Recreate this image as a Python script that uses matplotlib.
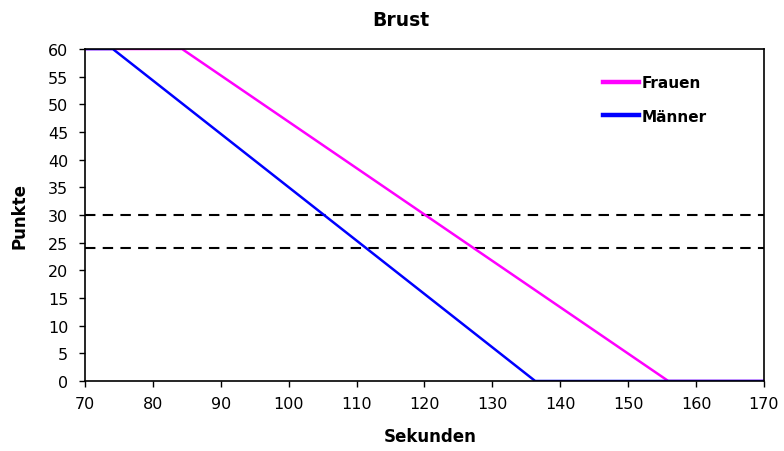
import numpy as np
import matplotlib
matplotlib.use('agg')
import matplotlib.pyplot as plt

# Punktetabelle Brust: Sekunden -> Punkte
frauen_sek = [70, 84.3, 155.9, 170]
frauen_pkt = [60, 60, 0, 0]
maenner_sek = [70, 74.1, 136.3, 170]
maenner_pkt = [60, 60, 0, 0]
grenzen = [30, 24]

plt.rcParams['font.family'] = 'DejaVu Sans'

W, H = 784, 452
fig = plt.figure(figsize=(W / 100, H / 100), dpi=100)
ax = fig.add_axes([85 / W, 70 / H, 679 / W, 332 / H])

for g in grenzen:
    ax.axhline(g, color='black', lw=1.5, dashes=(5, 3.5))

ax.plot(frauen_sek, frauen_pkt, color='#ff00ff', lw=1.8, label='Frauen')
ax.plot(maenner_sek, maenner_pkt, color='#0000ff', lw=1.8, label='Männer')

ax.set_xlim(70, 170)
ax.set_ylim(0, 60)
ax.set_xticks(np.arange(70, 171, 10))
ax.set_yticks(np.arange(0, 61, 5))
ax.tick_params(direction='out', length=4.5, width=1, labelsize=11.5)
ax.tick_params(axis='y', pad=7.5)
ax.tick_params(axis='x', pad=6.5)
for s in ax.spines.values():
    s.set_linewidth(1.2)

ax.set_xlabel('Sekunden', fontsize=12, fontweight='bold', va='center')
ax.xaxis.set_label_coords((430 - 85) / 679, (382 - 437) / 332)
ax.set_ylabel('Punkte', fontsize=12, fontweight='bold', va='center')
ax.yaxis.set_label_coords((20 - 85) / 679, 0.5)
fig.text(401 / W, 1 - 20 / H, 'Brust', ha='center', va='center',
         fontsize=13.5, fontweight='bold')

leg = ax.legend(loc='upper left', bbox_to_anchor=(0.742, 0.962), frameon=False,
                prop={'weight': 'bold', 'size': 11}, handlelength=2.4,
                handletextpad=0.15, labelspacing=1.2)
for h in leg.get_lines():
    h.set_linewidth(3.2)

fig.savefig('out.png', dpi=100)
